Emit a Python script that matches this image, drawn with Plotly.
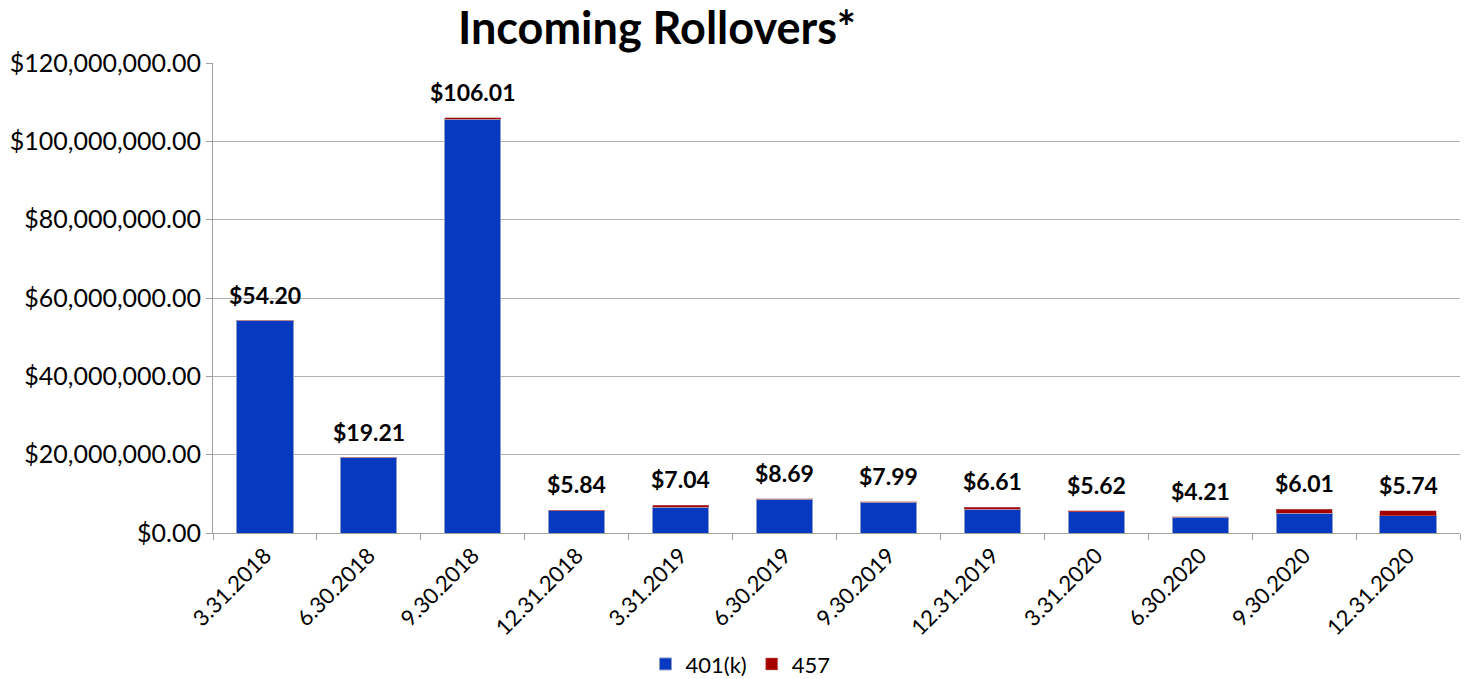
import plotly.graph_objects as go

categories = ["3.31.2018", "6.30.2018", "9.30.2018", "12.31.2018", "3.31.2019", "6.30.2019",
              "9.30.2019", "12.31.2019", "3.31.2020", "6.30.2020", "9.30.2020", "12.31.2020"]
totals_m = [54.20, 19.21, 106.01, 5.84, 7.04, 8.69, 7.99, 6.61, 5.62, 4.21, 6.01, 5.74]
s457_m = [0.05, 0.02, 0.35, 0.12, 0.45, 0.12, 0.2, 0.55, 0.15, 0.25, 1.0, 1.35]
s401k_m = [t - r for t, r in zip(totals_m, s457_m)]

s401k = [v * 1e6 for v in s401k_m]
s457 = [v * 1e6 for v in s457_m]
totals = [v * 1e6 for v in totals_m]

fig = go.Figure()
fig.add_trace(go.Bar(x=categories, y=s401k, name="401(k)",
                     marker=dict(color="#0638C0", line=dict(color="#8C9CC8", width=1))))
fig.add_trace(go.Bar(x=categories, y=s457, name="457",
                     marker=dict(color="#A50000", line=dict(color="#C08080", width=0.5))))

for c, t, tm in zip(categories, totals, totals_m):
    fig.add_annotation(x=c, y=t, text=f"<b>${tm:.2f}</b>", showarrow=False,
                       yanchor="bottom", yshift=10,
                       font=dict(family="Lato", size=23, color="black"))

fig.update_layout(
    barmode="stack",
    bargap=0.46,
    width=1468, height=679,
    margin=dict(l=213, r=8, t=63, b=146, autoexpand=False),
    plot_bgcolor="white", paper_bgcolor="white",
    font=dict(family="Lato", size=22, color="black"),
    title=dict(text="<b>Incoming Rollovers*</b>", x=0.4475, xref="container", xanchor="center",
               y=0.958, yref="container", yanchor="middle",
               font=dict(family="Lato", size=45, color="black")),
    legend=dict(orientation="h", x=0.423, xanchor="center", y=-0.279, yanchor="middle",
                font=dict(size=22), itemwidth=30, traceorder="normal"),
    showlegend=True,
)
fig.update_yaxes(range=[0, 120e6], dtick=20e6, tickformat="$,.2f",
                 showgrid=True, gridcolor="#B0B0B0", gridwidth=1,
                 showline=True, linecolor="#A0A0A0", linewidth=1,
                 ticks="outside", ticklen=6, tickcolor="#A0A0A0",
                 tickfont=dict(size=25), zeroline=False, automargin=False)
fig.update_xaxes(tickangle=-45, showline=True, linecolor="#A0A0A0", linewidth=1,
                 ticks="outside", tickson="boundaries", ticklen=6, tickcolor="#A0A0A0",
                 tickfont=dict(size=22), automargin=False)

fig.write_html("out.html")
